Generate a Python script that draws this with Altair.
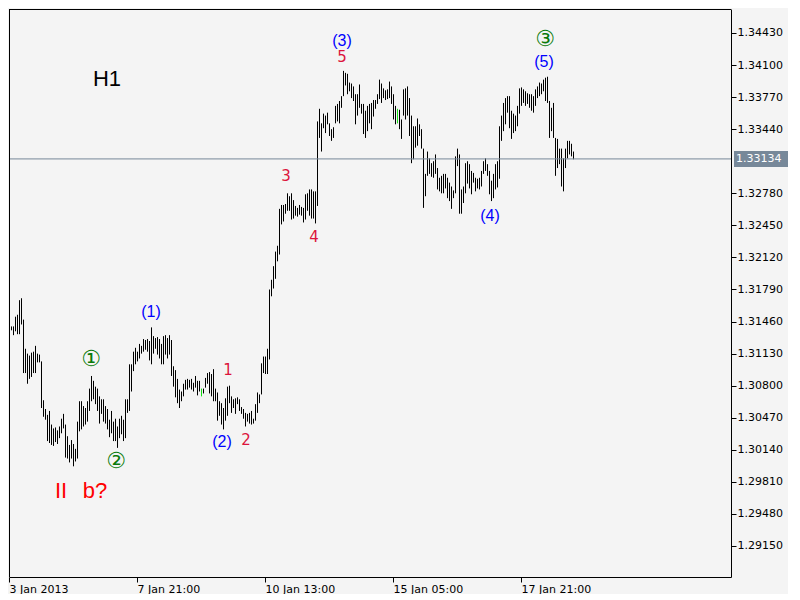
import altair as alt
import pandas as pd

# ---------------- data ----------------
highs = [
    1.3141, 1.3141, 1.3151, 1.3153, 1.3168, 1.3170, 1.3148, 1.3118, 1.3113, 1.3111,
    1.3114, 1.3115, 1.3121, 1.3113, 1.3112, 1.3105, 1.3065, 1.3056, 1.3050, 1.3054,
    1.3040, 1.3036, 1.3037, 1.3034, 1.3038, 1.3046, 1.3051, 1.3040, 1.3028, 1.3019,
    1.3024, 1.3020, 1.3015, 1.3043, 1.3064, 1.3064, 1.3059, 1.3057, 1.3064, 1.3077,
    1.3090, 1.3085, 1.3079, 1.3077, 1.3069, 1.3066, 1.3066, 1.3059, 1.3056, 1.3045,
    1.3054, 1.3043, 1.3046, 1.3038, 1.3046, 1.3049, 1.3045, 1.3066, 1.3066, 1.3102,
    1.3102, 1.3115, 1.3119, 1.3115, 1.3123, 1.3121, 1.3128, 1.3127, 1.3128, 1.3126,
    1.3140, 1.3131, 1.3129, 1.3130, 1.3128, 1.3123, 1.3131, 1.3132, 1.3129, 1.3132,
    1.3127, 1.3100, 1.3096, 1.3087, 1.3076, 1.3074, 1.3082, 1.3086, 1.3087, 1.3086,
    1.3087, 1.3083, 1.3090, 1.3085, 1.3085, 1.3077, 1.3077, 1.3088, 1.3093, 1.3094,
    1.3092, 1.3097, 1.3077, 1.3073, 1.3064, 1.3062, 1.3057, 1.3067, 1.3079, 1.3080,
    1.3069, 1.3066, 1.3067, 1.3068, 1.3066, 1.3058, 1.3056, 1.3052, 1.3051, 1.3052,
    1.3054, 1.3046, 1.3061, 1.3073, 1.3071, 1.3103, 1.3110, 1.3110, 1.3118, 1.3179,
    1.3189, 1.3203, 1.3218, 1.3224, 1.3262, 1.3266, 1.3266, 1.3267, 1.3278, 1.3275,
    1.3278, 1.3271, 1.3265, 1.3263, 1.3266, 1.3264, 1.3263, 1.3277, 1.3278, 1.3282,
    1.3282, 1.3280, 1.3280, 1.3352, 1.3365, 1.3350, 1.3360, 1.3358, 1.3361, 1.3350,
    1.3344, 1.3346, 1.3368, 1.3370, 1.3373, 1.3378, 1.3404, 1.3402, 1.3401, 1.3392,
    1.3391, 1.3388, 1.3380, 1.3380, 1.3390, 1.3370, 1.3370, 1.3363, 1.3368, 1.3370,
    1.3371, 1.3374, 1.3374, 1.3380, 1.3395, 1.3391, 1.3386, 1.3384, 1.3385, 1.3393,
    1.3388, 1.3380, 1.3368, 1.3365, 1.3364, 1.3354, 1.3385, 1.3386, 1.3388, 1.3376,
    1.3358, 1.3347, 1.3347, 1.3355, 1.3349, 1.3344, 1.3324, 1.3298, 1.3321, 1.3314,
    1.3309, 1.3311, 1.3318, 1.3304, 1.3294, 1.3296, 1.3298, 1.3298, 1.3294, 1.3289,
    1.3285, 1.3281, 1.3316, 1.3324, 1.3318, 1.3282, 1.3285, 1.3309, 1.3311, 1.3308,
    1.3301, 1.3299, 1.3294, 1.3293, 1.3294, 1.3301, 1.3311, 1.3314, 1.3308, 1.3301,
    1.3291, 1.3298, 1.3308, 1.3311, 1.3347, 1.3358, 1.3371, 1.3376, 1.3378, 1.3378,
    1.3363, 1.3360, 1.3358, 1.3368, 1.3386, 1.3387, 1.3385, 1.3383, 1.3381, 1.3380,
    1.3380, 1.3378, 1.3385, 1.3388, 1.3392, 1.3391, 1.3395, 1.3397, 1.3398, 1.3373,
    1.3366, 1.3371, 1.3335, 1.3334, 1.3324, 1.3324, 1.3314, 1.3324, 1.3332, 1.3332,
    1.3329, 1.3321,
]
lows = [
    1.3137, 1.3132, 1.3136, 1.3133, 1.3133, 1.3143, 1.3093, 1.3093, 1.3082, 1.3087,
    1.3089, 1.3093, 1.3093, 1.3104, 1.3104, 1.3057, 1.3048, 1.3045, 1.3023, 1.3021,
    1.3019, 1.3018, 1.3022, 1.3020, 1.3026, 1.3031, 1.3036, 1.3006, 1.3005, 1.3001,
    1.3005, 1.2997, 1.3002, 1.3005, 1.3033, 1.3035, 1.3038, 1.3040, 1.3043, 1.3054,
    1.3064, 1.3066, 1.3061, 1.3054, 1.3041, 1.3051, 1.3043, 1.3041, 1.3035, 1.3027,
    1.3031, 1.3023, 1.3023, 1.3016, 1.3026, 1.3030, 1.3023, 1.3026, 1.3052, 1.3054,
    1.3074, 1.3095, 1.3102, 1.3105, 1.3108, 1.3113, 1.3115, 1.3117, 1.3115, 1.3106,
    1.3102, 1.3113, 1.3118, 1.3112, 1.3108, 1.3102, 1.3102, 1.3112, 1.3108, 1.3112,
    1.3090, 1.3079, 1.3068, 1.3062, 1.3057, 1.3064, 1.3069, 1.3076, 1.3076, 1.3078,
    1.3076, 1.3074, 1.3078, 1.3070, 1.3074, 1.3069, 1.3072, 1.3078, 1.3082, 1.3072,
    1.3069, 1.3064, 1.3064, 1.3044, 1.3049, 1.3040, 1.3035, 1.3044, 1.3049, 1.3062,
    1.3052, 1.3057, 1.3051, 1.3061, 1.3054, 1.3051, 1.3046, 1.3038, 1.3043, 1.3041,
    1.3040, 1.3041, 1.3044, 1.3052, 1.3062, 1.3071, 1.3093, 1.3092, 1.3092, 1.3107,
    1.3172, 1.3180, 1.3190, 1.3208, 1.3215, 1.3246, 1.3249, 1.3257, 1.3260, 1.3260,
    1.3251, 1.3252, 1.3255, 1.3254, 1.3256, 1.3255, 1.3248, 1.3251, 1.3260, 1.3255,
    1.3252, 1.3252, 1.3247, 1.3265, 1.3335, 1.3321, 1.3345, 1.3340, 1.3349, 1.3337,
    1.3332, 1.3335, 1.3350, 1.3352, 1.3350, 1.3366, 1.3378, 1.3389, 1.3380, 1.3383,
    1.3376, 1.3373, 1.3349, 1.3358, 1.3366, 1.3360, 1.3339, 1.3335, 1.3342, 1.3350,
    1.3344, 1.3357, 1.3365, 1.3370, 1.3375, 1.3371, 1.3376, 1.3374, 1.3375, 1.3376,
    1.3370, 1.3354, 1.3349, 1.3350, 1.3344, 1.3334, 1.3358, 1.3354, 1.3358, 1.3337,
    1.3309, 1.3313, 1.3325, 1.3327, 1.3337, 1.3324, 1.3263, 1.3275, 1.3296, 1.3298,
    1.3295, 1.3294, 1.3298, 1.3282, 1.3280, 1.3278, 1.3278, 1.3283, 1.3273, 1.3270,
    1.3262, 1.3273, 1.3278, 1.3306, 1.3257, 1.3257, 1.3268, 1.3278, 1.3288, 1.3283,
    1.3277, 1.3289, 1.3280, 1.3283, 1.3282, 1.3285, 1.3298, 1.3301, 1.3296, 1.3277,
    1.3270, 1.3273, 1.3282, 1.3284, 1.3293, 1.3332, 1.3342, 1.3349, 1.3361, 1.3345,
    1.3334, 1.3340, 1.3342, 1.3347, 1.3360, 1.3368, 1.3371, 1.3368, 1.3370, 1.3366,
    1.3363, 1.3361, 1.3368, 1.3376, 1.3378, 1.3380, 1.3383, 1.3373, 1.3371, 1.3335,
    1.3342, 1.3335, 1.3296, 1.3304, 1.3308, 1.3285, 1.3280, 1.3304, 1.3314, 1.3318,
    1.3316, 1.3313,
]
doji_bars = [95, 193]          # bars drawn in green
current_price = 1.33134

x_tick_idx = [-1, 63, 127, 191, 255]
x_tick_text = ["3 Jan 2013", "7 Jan 21:00", "10 Jan 13:00", "15 Jan 05:00", "17 Jan 21:00"]
y_ticks = [1.29150, 1.29480, 1.29810, 1.30140, 1.30470, 1.30800, 1.31130, 1.31460,
           1.31790, 1.32120, 1.32450, 1.32780, 1.33440, 1.33770, 1.34100, 1.34430]

circle_text = ["①", "②", "③"]
circle_idx = [40, 52.5, 267]
circle_price = [1.3107, 1.3002, 1.3437]

paren_text = ["(1)", "(2)", "(3)", "(4)", "(5)"]
paren_idx = [70, 105.5, 165.5, 239.5, 266.5]
paren_price = [1.3156, 1.3022, 1.3435, 1.3255, 1.3413]

minor_text = ["1", "2", "3", "4", "5"]
minor_idx = [108.5, 117.5, 137.5, 151.5, 165.5]
minor_price = [1.3096, 1.3024, 1.3296, 1.3233, 1.3418]

title_text = ["H1"]
title_idx = [48]
title_price = [1.3396]

alt_text = ["II", "b?"]
alt_idx = [25, 42]
alt_price = [1.2972, 1.2972]

# ---------------- chart ----------------
n = min(len(highs), len(lows))
bars = pd.DataFrame({
    "idx": list(range(n)),
    "high": highs[:n],
    "low": lows[:n],
    "col": ["#18e018" if i in doji_bars else "#000000" for i in range(n)],
})

W, H = 722, 568
xscale = alt.Scale(domain=[-1, 360], nice=False, zero=False)
yscale = alt.Scale(domain=[1.288309, 1.346770], nice=False, zero=False)

label_expr = ""
for i, t in zip(x_tick_idx, x_tick_text):
    label_expr += f"datum.value == {i} ? '{t}' : "
label_expr += "''"

x_axis = alt.Axis(values=x_tick_idx, labelExpr=label_expr, orient="bottom", grid=False,
                  domainColor="black", tickColor="black", tickSize=5, labelAlign="left",
                  labelBaseline="top", labelPadding=1, labelFont="DejaVu Sans", labelFontSize=11,
                  labelColor="black", labelOverlap=False, labelFlush=False, labelBound=False,
                  title=None)
y_axis = alt.Axis(values=y_ticks, format=".5f", orient="right", grid=False,
                  domainColor="black", tickColor="black", tickSize=5, labelPadding=1,
                  labelFont="DejaVu Sans", labelFontSize=11, labelColor="black",
                  labelOverlap=False, labelFlush=False, labelBound=False, title=None)

bar_layer = alt.Chart(bars).mark_rule(strokeWidth=1, xOffset=0.5).encode(
    x=alt.X("idx:Q", scale=xscale, axis=x_axis),
    y=alt.Y("low:Q", scale=yscale, axis=y_axis),
    y2="high:Q",
    color=alt.Color("col:N", scale=None),
)

price_df = pd.DataFrame({"p": [current_price], "t": [f"{current_price:.5f}"]})
price_line = alt.Chart(price_df).mark_rule(color="#778899", strokeWidth=1).encode(
    y=alt.Y("p:Q", scale=yscale, axis=y_axis))

price_box = alt.Chart(price_df).mark_rect(color="#778899", yOffset=-8, y2Offset=8).encode(
    y=alt.Y("p:Q", scale=yscale, axis=y_axis), y2="p:Q",
    x=alt.value(725), x2=alt.value(779),
)
price_text = alt.Chart(price_df).mark_text(
    color="white", align="left", baseline="middle", font="DejaVu Sans", fontSize=11
).encode(y=alt.Y("p:Q", scale=yscale, axis=y_axis), x=alt.value(727), text="t:N")

left_edge = alt.Chart(price_df).mark_rule(color="black", xOffset=0.5).encode(
    x=alt.value(0), y=alt.value(0), y2=alt.value(H))
top_edge = alt.Chart(price_df).mark_rule(color="black", yOffset=0.5).encode(
    y=alt.value(0), x=alt.value(0), x2=alt.value(W))


def text_layer(texts, idxs, prices, color, font, size):
    df = pd.DataFrame({"t": texts, "idx": idxs, "p": prices})
    return alt.Chart(df).mark_text(color=color, font=font, fontSize=size,
                                   align="center", baseline="middle").encode(
        x=alt.X("idx:Q", scale=xscale, axis=x_axis),
        y=alt.Y("p:Q", scale=yscale, axis=y_axis),
        text="t:N",
    )


layers = [
    bar_layer, price_line, left_edge, top_edge, price_box, price_text,
    text_layer(circle_text, circle_idx, circle_price, "#0a7a0a", "DejaVu Sans", 22),
    text_layer(paren_text, paren_idx, paren_price, "#0000ff", "Liberation Sans", 16),
    text_layer(minor_text, minor_idx, minor_price, "#dc143c", "DejaVu Sans", 15),
    text_layer(title_text, title_idx, title_price, "#000000", "Liberation Sans", 22),
    text_layer(alt_text, alt_idx, alt_price, "#ff0000", "Liberation Sans", 22),
]

chart = alt.layer(*layers).properties(width=W, height=H, padding=0).configure(
    background="#f4f4f4"
).configure_view(stroke=None)

chart.save("out.html", embed_options={"renderer": "svg", "actions": False})
